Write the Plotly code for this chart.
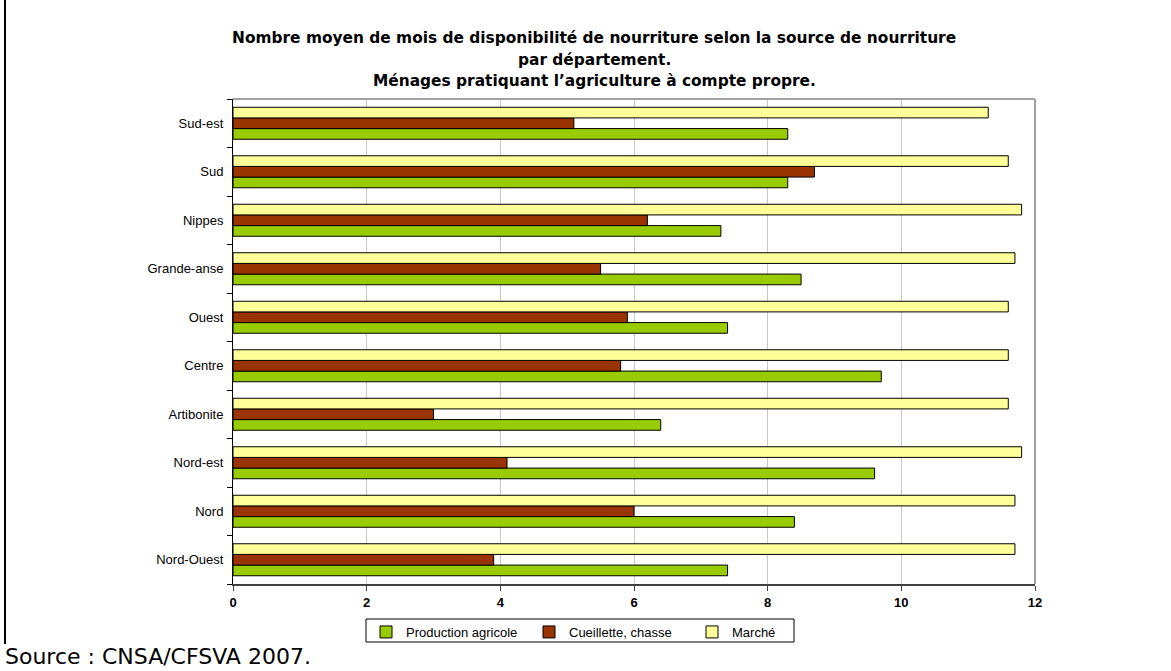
import plotly.graph_objects as go

departements = ["Nord-Ouest", "Nord", "Nord-est", "Artibonite", "Centre",
                "Ouest", "Grande-anse", "Nippes", "Sud", "Sud-est"]
production_agricole = [7.4, 8.4, 9.6, 6.4, 9.7, 7.4, 8.5, 7.3, 8.3, 8.3]
cueillette_chasse = [3.9, 6.0, 4.1, 3.0, 5.8, 5.9, 5.5, 6.2, 8.7, 5.1]
marche = [11.7, 11.7, 11.8, 11.6, 11.6, 11.6, 11.7, 11.8, 11.6, 11.3]
x_ticks = [0, 2, 4, 6, 8, 10, 12]

title_lines = [
    "Nombre moyen de mois de disponibilité de nourriture selon la source de nourriture",
    "par département.",
    "Ménages pratiquant l’agriculture à compte propre.",
]
source_text = "Source : CNSA/CFSVA 2007."

W, H = 1171, 671
L, R, T, B = 233, 1035, 99, 584
PW, PH = R - L, B - T


def px(xp):
    return (xp - L) / PW


def py(yp):
    return (B - yp) / PH


fig = go.Figure()
series = [
    ("Production agricole", production_agricole, "#99CC00"),
    ("Cueillette, chasse", cueillette_chasse, "#993300"),
    ("Marché", marche, "#FFFF99"),
]
for name, vals, col in series:
    fig.add_trace(go.Bar(
        y=departements, x=vals, name=name, orientation="h",
        marker=dict(color=col, line=dict(color="#000000", width=1)),
    ))

fig.update_layout(
    width=W, height=H,
    margin=dict(l=L, r=W - R, t=T, b=H - B, pad=0),
    paper_bgcolor="white", plot_bgcolor="white",
    barmode="group", bargap=0.34, bargroupgap=0,
    font=dict(family="Liberation Sans, Arial, sans-serif", color="black"),
    showlegend=True,
    legend=dict(
        orientation="h", x=px(366), y=py(617), xanchor="left", yanchor="top",
        borderwidth=0, bgcolor="rgba(0,0,0,0)", font=dict(size=13),
        entrywidth=118, entrywidthmode="pixels",
        traceorder="normal",
    ),
)

fig.update_xaxes(
    range=[0, 12], tickvals=x_ticks, ticktext=[str(v) for v in x_ticks],
    showgrid=True, gridcolor="#C8C8C8", gridwidth=1,
    showline=True, linecolor="#404040", linewidth=2,
    ticks="outside", ticklen=5, tickcolor="#404040",
    tickfont=dict(size=13, family="Liberation Sans, Arial, sans-serif", weight="bold"),
    zeroline=False, fixedrange=True,
)
fig.update_yaxes(
    type="category", categoryorder="array", categoryarray=departements,
    showline=True, linecolor="black", linewidth=1,
    ticks="outside", ticklen=5, tickcolor="black", tickson="boundaries",
    tickfont=dict(size=13), ticklabelstandoff=6,
    showgrid=False, fixedrange=True,
)

# plot frame (top / right)
fig.add_shape(type="line", xref="paper", yref="paper", x0=0, x1=1, y0=1, y1=1,
              line=dict(color="#A0A0A0", width=2), layer="above")
fig.add_shape(type="line", xref="paper", yref="paper", x0=1, x1=1, y0=0, y1=1,
              line=dict(color="#A0A0A0", width=2), layer="above")
# legend frame
fig.add_shape(type="rect", xref="paper", yref="paper", x0=px(366), x1=px(794),
              y0=py(619), y1=py(642), line=dict(color="black", width=1))
# page border on the left
fig.add_shape(type="line", xref="paper", yref="paper", x0=px(5), x1=px(5),
              y0=py(0), y1=py(644), line=dict(color="black", width=2))

centers = [38, 59.5, 81]
for txt, cy in zip(title_lines, centers):
    fig.add_annotation(text="<b>" + txt + "</b>", xref="paper", yref="paper",
                       x=px(594), y=py(cy), xanchor="center", yanchor="middle",
                       showarrow=False,
                       font=dict(family="DejaVu Sans", size=15.4, color="black"))

fig.add_annotation(text=source_text, xref="paper", yref="paper",
                   x=px(3), y=py(656), xanchor="left", yanchor="middle",
                   showarrow=False,
                   font=dict(family="DejaVu Sans", size=22, color="black"))

fig.write_html("out.html")
